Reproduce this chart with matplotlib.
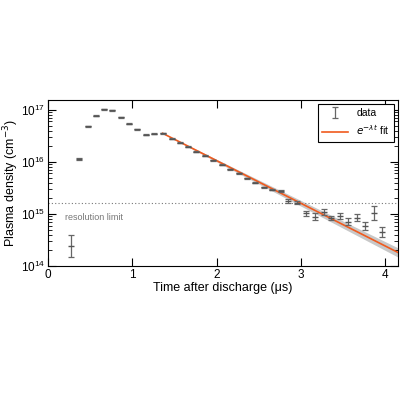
import numpy as np
import matplotlib.pyplot as plt

plt.rcParams['font.family'] = ['Arial', 'Liberation Sans', 'DejaVu Sans']

# measured points (time in us, log10 density)
t = [0.27, 0.37, 0.47, 0.57, 0.66, 0.76, 0.86, 0.96, 1.06, 1.16, 1.26, 1.36,
     1.47, 1.56, 1.66, 1.76, 1.86, 1.96, 2.06, 2.16, 2.26, 2.36, 2.46, 2.56,
     2.66, 2.76, 2.85, 2.95, 3.06, 3.16, 3.27, 3.36, 3.46, 3.56, 3.66, 3.76,
     3.86, 3.96]
logn = [14.38, 16.06, 16.69, 16.89, 17.01, 16.99, 16.86, 16.73, 16.63, 16.52,
        16.54, 16.55, 16.45, 16.37, 16.29, 16.20, 16.12, 16.03, 15.95, 15.86,
        15.78, 15.69, 15.60, 15.51, 15.47, 15.44, 15.25, 15.22, 15.01, 14.95,
        15.04, 14.93, 14.96, 14.85, 14.93, 14.77, 15.02, 14.65]
logerr = [0.21, 0.02, 0.01, 0.01, 0.01, 0.01, 0.01, 0.01, 0.01, 0.01, 0.01, 0.01,
          0.01, 0.01, 0.01, 0.01, 0.01, 0.01, 0.01, 0.01, 0.01, 0.01, 0.01, 0.01,
          0.01, 0.02, 0.03, 0.03, 0.04, 0.07, 0.06, 0.04, 0.05, 0.07, 0.07, 0.07,
          0.13, 0.10]

fit_t = [1.36, 4.15]
fit_logn = [16.55, 14.26]
res_limit = 1.65e15

t = np.array(t)
logn = np.array(logn)
logerr = np.array(logerr)
n = 10**logn
lo = n - 10**(logn - logerr)
hi = 10**(logn + logerr) - n

fig = plt.figure(figsize=(4, 4), dpi=100)
ax = fig.add_axes([0.12, 0.335, 0.875, 0.415])

# fit with uncertainty band
ft = np.linspace(fit_t[0], fit_t[1], 100)
slope = (fit_logn[1] - fit_logn[0]) / (fit_t[1] - fit_t[0])
fl = fit_logn[0] + slope * (ft - fit_t[0])
band = 0.005 + 0.03 * (ft - fit_t[0])
ax.fill_between(ft, 10**(fl - band), 10**(fl + band), color='#c8c8c8', lw=0)
ax.plot(ft, 10**fl, color='#f05a1e', lw=1.2, label=r'$e^{-\lambda t}$ fit', zorder=3)

ax.errorbar(t, n, yerr=[lo, hi], fmt='none', ecolor='#666666', elinewidth=0.9,
            capsize=2.5, capthick=0.9, label='data', zorder=4)
ax.plot(t, n, ls='none', marker='_', ms=4, color='#555555', mew=1.0, zorder=4)

ax.axhline(res_limit, color='#777777', ls=(0, (1, 2)), lw=0.8)
ax.text(0.2, 1.05e15, 'resolution limit', fontsize=6.5, color='#777777', va='top')

ax.set_yscale('log')
ax.set_xlim(0, 4.15)
ax.set_ylim(1e14, 1.55e17)
ax.set_xticks([0, 1, 2, 3, 4])
ax.tick_params(which='both', direction='in', top=True, right=True, labelsize=8.5, pad=2)
ax.tick_params(which='major', length=6)
ax.tick_params(which='minor', length=3)
ax.set_xlabel('Time after discharge (μs)', fontsize=9, labelpad=1)
ax.set_ylabel('Plasma density (cm$^{-3}$)', fontsize=9, labelpad=0)

h, l = ax.get_legend_handles_labels()
leg = ax.legend(h[::-1], l[::-1], loc='upper right', fontsize=7.5, fancybox=False,
                edgecolor='black', framealpha=1, borderaxespad=0.4, handlelength=2.5)
leg.get_frame().set_linewidth(0.8)

fig.savefig('out.png', dpi=100)
